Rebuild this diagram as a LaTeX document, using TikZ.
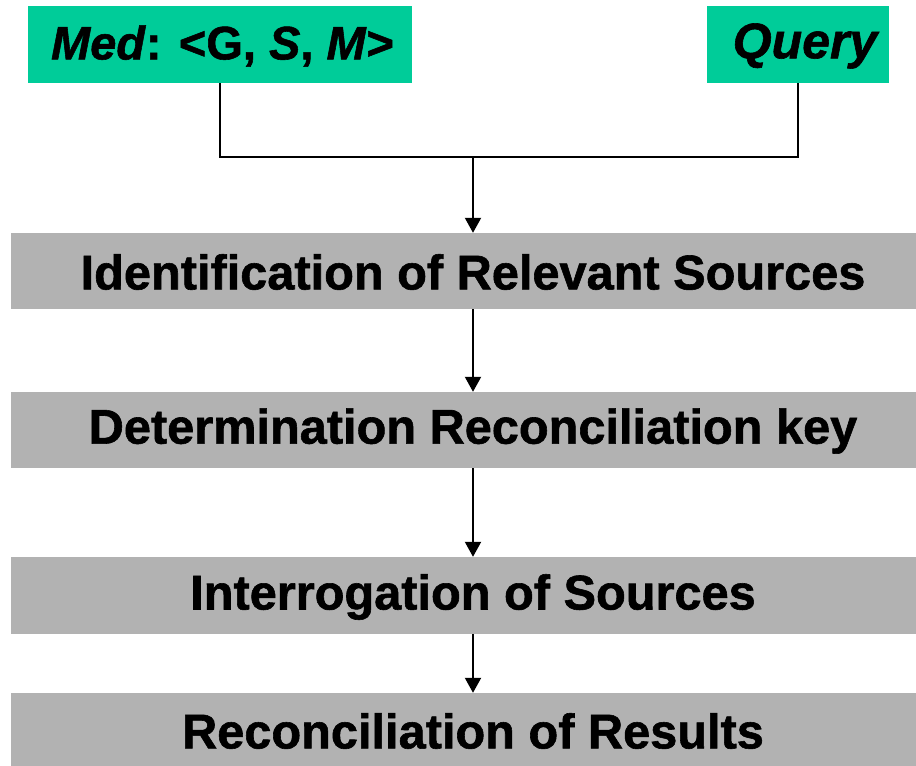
\documentclass[tikz,border=0pt]{standalone}
\usepackage{fontspec}
\setmainfont{Liberation Sans}[BoldFeatures={FakeBold=1.2},BoldItalicFeatures={FakeBold=1.2}]
\usetikzlibrary{arrows.meta}
\definecolor{medgreen}{RGB}{0,204,153}
\definecolor{stepgray}{RGB}{178,178,178}
\begin{document}
\begin{tikzpicture}[x=1pt,y=-1pt,
  inputbox/.style={fill=medgreen,draw=none,inner sep=0pt,anchor=center},
  stagebox/.style={fill=stepgray,draw=none,inner sep=0pt,minimum width=905pt,anchor=center},
  stagetext/.style={font=\fontsize{48.7}{52}\selectfont\bfseries,anchor=center},
  conn/.style={line width=2pt},
  flow/.style={line width=2pt,-{Triangle[width=16pt,length=15pt]}}]
\useasboundingbox (0,0) rectangle (916,766);
% input boxes
\node[inputbox,minimum width=384pt,minimum height=77pt] (medbox) at (220,44.5) {};
\node[inputbox,minimum width=182pt,minimum height=77pt] (querybox) at (798,44.5) {};
\node[font=\fontsize{47}{50}\selectfont\bfseries] (med) at (222.5,46) {\textit{Med}: <G, \textit{S}, \textit{M}>};
\node[font=\fontsize{50}{52}\selectfont\bfseries\itshape] (query) at (805,46) {Query};
% stage boxes
\node[stagebox,minimum height=76pt] (b1) at (463.5,271) {};
\node[stagebox,minimum height=76pt] (b2) at (463.5,430) {};
\node[stagebox,minimum height=77pt] (b3) at (463.5,595.5) {};
\node[stagebox,minimum height=73pt] (b4) at (463.5,729.5) {};
\node[stagetext] (s1) at (473,272) {Identification of Relevant Sources};
\node[stagetext] (s2) at (473,431) {Determination Reconciliation key};
\node[stagetext] (s3) at (473,597) {Interrogation of Sources};
\node[stagetext] (s4) at (473,731) {Reconciliation of Results};
% connectors
\coordinate (j) at (473,157);
\draw[conn] (medbox.south) |- (j) -| (querybox.south);
\draw[flow] (j) -- (j |- b1.north);
\draw[flow] (j |- b1.south) -- (j |- b2.north);
\draw[flow] (j |- b2.south) -- (j |- b3.north);
\draw[flow] (j |- b3.south) -- (j |- b4.north);
\end{tikzpicture}
\end{document}
